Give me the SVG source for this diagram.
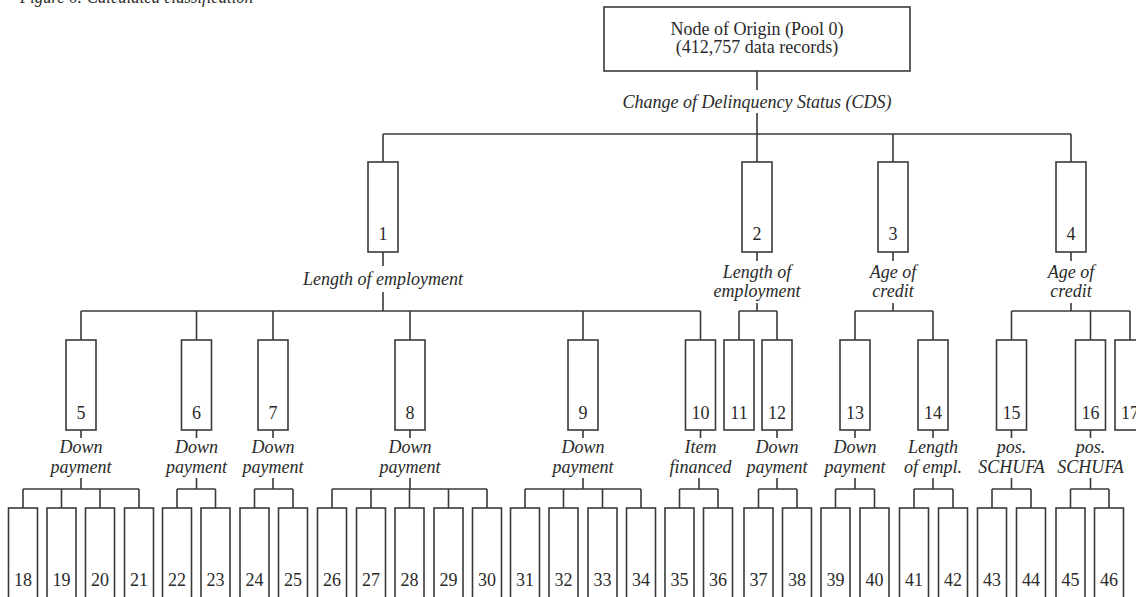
<svg xmlns="http://www.w3.org/2000/svg" width="1136" height="597" viewBox="0 0 1136 597">
<style>
.bg{fill:#fff}
.box{fill:#fff;stroke:#3a3a3a;stroke-width:1.6}
.con{fill:none;stroke:#3a3a3a;stroke-width:1.6}
.t{font-family:"Liberation Serif","Times New Roman",serif;font-size:18px;fill:#2a2a2a;text-anchor:middle}
.i{font-style:italic}
</style>
<rect class="bg" x="0" y="0" width="1136" height="597"/>
<text class="t i" x="20" y="3" style="text-anchor:start" textLength="233" lengthAdjust="spacingAndGlyphs">Figure 6: Calculated classification</text>

<g id="connectors">
<path class="con" d="M757 71V90M757 113V134M383 134H1071M383 134V162M757 134V162M893 134V162M1071 134V162"/>
<path class="con" d="M383 252V266M383 292V311M81 311H700.5M81 311V340M196.5 311V340M273 311V340M410 311V340M583 311V340M700.5 311V340"/>
<path class="con" d="M757 252V261M757 303V311M739 311H777M739 311V340M777 311V340"/>
<path class="con" d="M893 252V261M893 303V311M855 311H933M855 311V340M933 311V340"/>
<path class="con" d="M1071 252V261M1071 303V311M1011.5 311H1130M1011.5 311V340M1090.5 311V340M1130 311V340"/>
<path class="con" d="M81 430V438M81 478V489M23 489H139M23 489V508M61.5 489V508M100 489V508M139 489V508"/>
<path class="con" d="M196.5 430V438M196.5 478V489M177 489H215.5M177 489V508M215.5 489V508"/>
<path class="con" d="M273 430V438M273 478V489M254.5 489H293M254.5 489V508M293 489V508"/>
<path class="con" d="M410 430V438M410 478V489M332 489H487M332 489V508M371 489V508M409.5 489V508M448.5 489V508M487 489V508"/>
<path class="con" d="M583 430V438M583 478V489M525 489H641M525 489V508M563.5 489V508M602.5 489V508M641 489V508"/>
<path class="con" d="M700.5 430V438M699 478V489M679.5 489H718M679.5 489V508M718 489V508"/>
<path class="con" d="M777 430V438M777 478V489M758.5 489H797M758.5 489V508M797 489V508"/>
<path class="con" d="M855 430V438M855 478V489M835.5 489H874.5M835.5 489V508M874.5 489V508"/>
<path class="con" d="M933 430V438M933 478V489M914 489H953M914 489V508M953 489V508"/>
<path class="con" d="M1011.5 430V438M1011.5 478V489M992 489H1031M992 489V508M1031 489V508"/>
<path class="con" d="M1090.5 430V438M1090.5 478V489M1070.5 489H1109M1070.5 489V508M1109 489V508"/>
</g>

<g id="node0"><rect class="box" x="604" y="7" width="306" height="64"/><text class="t" x="757" y="35">Node of Origin (Pool 0)</text><text class="t" x="757" y="53">(412,757 data records)</text></g>
<text class="t i" x="757" y="108">Change of Delinquency Status (CDS)</text>

<g id="node1"><rect class="box" x="368" y="162" width="30" height="90"/><text class="t" x="383" y="240">1</text></g>
<g id="node2"><rect class="box" x="742" y="162" width="30" height="90"/><text class="t" x="757" y="240">2</text></g>
<g id="node3"><rect class="box" x="878" y="162" width="30" height="90"/><text class="t" x="893" y="240">3</text></g>
<g id="node4"><rect class="box" x="1056" y="162" width="30" height="90"/><text class="t" x="1071" y="240">4</text></g>

<text class="t i" x="383" y="285">Length of employment</text>
<text class="t i" x="757" y="278">Length of</text><text class="t i" x="757" y="297">employment</text>
<text class="t i" x="893" y="278">Age of</text><text class="t i" x="893" y="297">credit</text>
<text class="t i" x="1071" y="278">Age of</text><text class="t i" x="1071" y="297">credit</text>

<g id="node5"><rect class="box" x="66" y="340" width="30" height="90"/><text class="t" x="81" y="419">5</text></g>
<g id="node6"><rect class="box" x="181.5" y="340" width="30" height="90"/><text class="t" x="196.5" y="419">6</text></g>
<g id="node7"><rect class="box" x="258" y="340" width="30" height="90"/><text class="t" x="273" y="419">7</text></g>
<g id="node8"><rect class="box" x="395" y="340" width="30" height="90"/><text class="t" x="410" y="419">8</text></g>
<g id="node9"><rect class="box" x="568" y="340" width="30" height="90"/><text class="t" x="583" y="419">9</text></g>
<g id="node10"><rect class="box" x="685.5" y="340" width="30" height="90"/><text class="t" x="700.5" y="419">10</text></g>
<g id="node11"><rect class="box" x="724" y="340" width="30" height="90"/><text class="t" x="739" y="419">11</text></g>
<g id="node12"><rect class="box" x="762" y="340" width="30" height="90"/><text class="t" x="777" y="419">12</text></g>
<g id="node13"><rect class="box" x="840" y="340" width="30" height="90"/><text class="t" x="855" y="419">13</text></g>
<g id="node14"><rect class="box" x="918" y="340" width="30" height="90"/><text class="t" x="933" y="419">14</text></g>
<g id="node15"><rect class="box" x="996.5" y="340" width="30" height="90"/><text class="t" x="1011.5" y="419">15</text></g>
<g id="node16"><rect class="box" x="1075.5" y="340" width="30" height="90"/><text class="t" x="1090.5" y="419">16</text></g>
<g id="node17"><rect class="box" x="1115" y="340" width="30" height="90"/><text class="t" x="1130" y="419">17</text></g>

<text class="t i" x="81" y="453">Down</text><text class="t i" x="81" y="473">payment</text>
<text class="t i" x="196.5" y="453">Down</text><text class="t i" x="196.5" y="473">payment</text>
<text class="t i" x="273" y="453">Down</text><text class="t i" x="273" y="473">payment</text>
<text class="t i" x="410" y="453">Down</text><text class="t i" x="410" y="473">payment</text>
<text class="t i" x="583" y="453">Down</text><text class="t i" x="583" y="473">payment</text>
<text class="t i" x="700.5" y="453">Item</text><text class="t i" x="700.5" y="473">financed</text>
<text class="t i" x="777" y="453">Down</text><text class="t i" x="777" y="473">payment</text>
<text class="t i" x="855" y="453">Down</text><text class="t i" x="855" y="473">payment</text>
<text class="t i" x="933" y="453">Length</text><text class="t i" x="933" y="473">of empl.</text>
<text class="t i" x="1011.5" y="453">pos.</text><text class="t i" x="1011.5" y="473">SCHUFA</text>
<text class="t i" x="1090.5" y="453">pos.</text><text class="t i" x="1090.5" y="473">SCHUFA</text>

<g id="node18"><rect class="box" x="8.5" y="508" width="29" height="100"/><text class="t" x="23" y="586">18</text></g>
<g id="node19"><rect class="box" x="47" y="508" width="29" height="100"/><text class="t" x="61.5" y="586">19</text></g>
<g id="node20"><rect class="box" x="85.5" y="508" width="29" height="100"/><text class="t" x="100" y="586">20</text></g>
<g id="node21"><rect class="box" x="124.5" y="508" width="29" height="100"/><text class="t" x="139" y="586">21</text></g>
<g id="node22"><rect class="box" x="162.5" y="508" width="29" height="100"/><text class="t" x="177" y="586">22</text></g>
<g id="node23"><rect class="box" x="201" y="508" width="29" height="100"/><text class="t" x="215.5" y="586">23</text></g>
<g id="node24"><rect class="box" x="240" y="508" width="29" height="100"/><text class="t" x="254.5" y="586">24</text></g>
<g id="node25"><rect class="box" x="278.5" y="508" width="29" height="100"/><text class="t" x="293" y="586">25</text></g>
<g id="node26"><rect class="box" x="317.5" y="508" width="29" height="100"/><text class="t" x="332" y="586">26</text></g>
<g id="node27"><rect class="box" x="356.5" y="508" width="29" height="100"/><text class="t" x="371" y="586">27</text></g>
<g id="node28"><rect class="box" x="395" y="508" width="29" height="100"/><text class="t" x="409.5" y="586">28</text></g>
<g id="node29"><rect class="box" x="434" y="508" width="29" height="100"/><text class="t" x="448.5" y="586">29</text></g>
<g id="node30"><rect class="box" x="472.5" y="508" width="29" height="100"/><text class="t" x="487" y="586">30</text></g>
<g id="node31"><rect class="box" x="510.5" y="508" width="29" height="100"/><text class="t" x="525" y="586">31</text></g>
<g id="node32"><rect class="box" x="549" y="508" width="29" height="100"/><text class="t" x="563.5" y="586">32</text></g>
<g id="node33"><rect class="box" x="588" y="508" width="29" height="100"/><text class="t" x="602.5" y="586">33</text></g>
<g id="node34"><rect class="box" x="626.5" y="508" width="29" height="100"/><text class="t" x="641" y="586">34</text></g>
<g id="node35"><rect class="box" x="665" y="508" width="29" height="100"/><text class="t" x="679.5" y="586">35</text></g>
<g id="node36"><rect class="box" x="703.5" y="508" width="29" height="100"/><text class="t" x="718" y="586">36</text></g>
<g id="node37"><rect class="box" x="744" y="508" width="29" height="100"/><text class="t" x="758.5" y="586">37</text></g>
<g id="node38"><rect class="box" x="782.5" y="508" width="29" height="100"/><text class="t" x="797" y="586">38</text></g>
<g id="node39"><rect class="box" x="821" y="508" width="29" height="100"/><text class="t" x="835.5" y="586">39</text></g>
<g id="node40"><rect class="box" x="860" y="508" width="29" height="100"/><text class="t" x="874.5" y="586">40</text></g>
<g id="node41"><rect class="box" x="899.5" y="508" width="29" height="100"/><text class="t" x="914" y="586">41</text></g>
<g id="node42"><rect class="box" x="938.5" y="508" width="29" height="100"/><text class="t" x="953" y="586">42</text></g>
<g id="node43"><rect class="box" x="977.5" y="508" width="29" height="100"/><text class="t" x="992" y="586">43</text></g>
<g id="node44"><rect class="box" x="1016.5" y="508" width="29" height="100"/><text class="t" x="1031" y="586">44</text></g>
<g id="node45"><rect class="box" x="1056" y="508" width="29" height="100"/><text class="t" x="1070.5" y="586">45</text></g>
<g id="node46"><rect class="box" x="1094.5" y="508" width="29" height="100"/><text class="t" x="1109" y="586">46</text></g>
</svg>
